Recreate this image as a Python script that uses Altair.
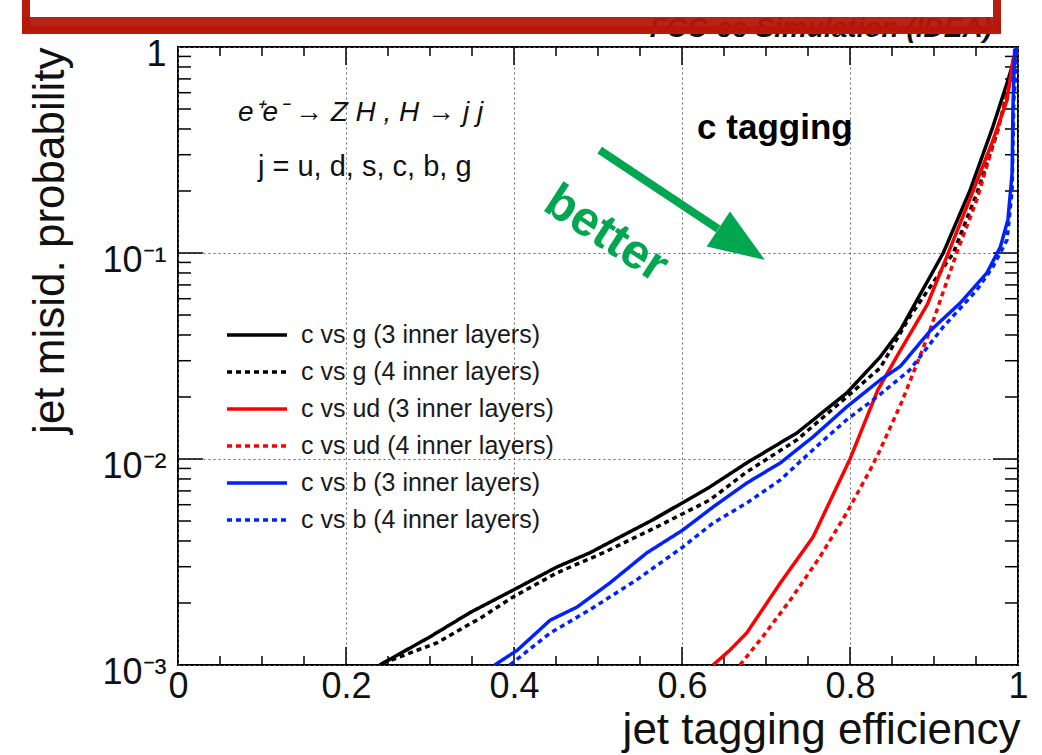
import altair as alt
import pandas as pd

# ---------------- data ----------------
labels = ["c vs g (3 inner layers)", "c vs g (4 inner layers)",
          "c vs ud (3 inner layers)", "c vs ud (4 inner layers)",
          "c vs b (3 inner layers)", "c vs b (4 inner layers)"]
colors = ["#000000", "#000000", "#ff0000", "#ff0000", "#0022ff", "#0022ff"]
dashes = [[1, 0], [5, 4], [1, 0], [5, 4], [1, 0], [5, 4]]

eff_g3 = [0.240, 0.300, 0.348, 0.399, 0.451, 0.490, 0.526, 0.565, 0.633, 0.677,
          0.737, 0.796, 0.836, 0.860, 0.911, 0.943, 0.970, 0.987, 1.0]
mis_g3 = [1.0e-3, 1.37e-3, 1.80e-3, 2.31e-3, 2.99e-3, 3.50e-3, 4.18e-3, 5.06e-3, 7.31e-3, 9.57e-3,
          1.34e-2, 2.09e-2, 3.13e-2, 4.23e-2, 0.100, 0.202, 0.409, 0.669, 1.0]

eff_g4 = [0.244, 0.308, 0.360, 0.399, 0.451, 0.506, 0.570, 0.633, 0.677, 0.737,
          0.796, 0.836, 0.871, 0.923, 0.951, 0.975, 0.988, 1.0]
mis_g4 = [1.02e-3, 1.28e-3, 1.69e-3, 2.14e-3, 2.80e-3, 3.50e-3, 4.68e-3, 6.32e-3, 8.65e-3, 1.24e-2,
          2.00e-2, 2.77e-2, 4.89e-2, 0.100, 0.195, 0.383, 0.618, 1.0]

eff_u3 = [0.637, 0.657, 0.677, 0.717, 0.756, 0.800, 0.833, 0.856, 0.892, 0.915,
          0.943, 0.970, 0.987, 0.994, 1.0]
mis_u3 = [1.0e-3, 1.18e-3, 1.43e-3, 2.50e-3, 4.18e-3, 1.0e-2, 2.16e-2, 3.16e-2, 5.62e-2, 9.55e-2,
          0.184, 0.351, 0.553, 0.865, 1.0]

eff_u4 = [0.669, 0.696, 0.729, 0.764, 0.796, 0.824, 0.836, 0.862, 0.893, 0.927,
          0.951, 0.964, 0.975, 0.988, 1.0]
mis_u4 = [1.0e-3, 1.37e-3, 2.07e-3, 3.34e-3, 5.47e-3, 8.85e-3, 1.11e-2, 1.91e-2, 3.98e-2, 0.100,
          0.181, 0.274, 0.383, 0.618, 1.0]

eff_b3 = [0.377, 0.404, 0.443, 0.475, 0.514, 0.558, 0.601, 0.637, 0.677, 0.717,
          0.756, 0.796, 0.836, 0.860, 0.895, 0.931, 0.963, 0.979, 0.988, 0.993,
          0.994, 0.996, 1.0]
mis_b3 = [1.0e-3, 1.18e-3, 1.65e-3, 1.91e-3, 2.50e-3, 3.50e-3, 4.52e-3, 5.85e-3, 7.64e-3, 9.57e-3,
          1.28e-2, 1.79e-2, 2.42e-2, 2.82e-2, 4.17e-2, 5.71e-2, 8.0e-2, 0.107, 0.145, 0.244,
          0.512, 0.966, 1.0]

eff_b4 = [0.395, 0.443, 0.490, 0.546, 0.601, 0.637, 0.677, 0.717, 0.756, 0.796,
          0.832, 0.871, 0.911, 0.951, 0.970, 0.987, 0.993, 0.995, 1.0]
mis_b4 = [1.0e-3, 1.43e-3, 1.85e-3, 2.59e-3, 3.74e-3, 4.89e-3, 6.11e-3, 7.91e-3, 1.11e-2, 1.55e-2,
          2.0e-2, 2.70e-2, 4.38e-2, 6.61e-2, 8.55e-2, 0.116, 0.202, 0.553, 1.0]

# axis ticks
x_labels_at = [0, 0.2, 0.4, 0.6, 0.8, 1]
x_major = [0.2, 0.4, 0.6, 0.8]
x_minor = [0.05, 0.1, 0.15, 0.25, 0.3, 0.35, 0.45, 0.5, 0.55,
           0.65, 0.7, 0.75, 0.85, 0.9, 0.95]
y_labels_at = [0.001, 0.01, 0.1, 1]
y_major = [0.01, 0.1]
y_minor = [0.002, 0.003, 0.004, 0.005, 0.006, 0.007, 0.008, 0.009,
           0.02, 0.03, 0.04, 0.05, 0.06, 0.07, 0.08, 0.09,
           0.2, 0.3, 0.4, 0.5, 0.6, 0.7, 0.8, 0.9]

# annotations (data coordinates)
process_text = "e\u207ae\u207b \u2192 Z H , H \u2192 j j"
jets_text = "j = u, d, s, c, b, g"
tag_text = "c tagging"
better_text = "better"
header_text = "FCC-ee Simulation (IDEA)"

FONT = "Liberation Sans"
GREEN = "#00a650"
W, H = 840, 618

# ---------------- build ----------------
series = [eff_g3, eff_g4, eff_u3, eff_u4, eff_b3, eff_b4]
misid = [mis_g3, mis_g4, mis_u3, mis_u4, mis_b3, mis_b4]
rows = []
for lab, ex, my in zip(labels, series, misid):
    for i, (a, b) in enumerate(zip(ex, my)):
        rows.append({"series": lab, "eff": a, "mis": b, "i": i})
curves = pd.DataFrame(rows)

xs = alt.Scale(domain=[0, 1], nice=False, zero=False)
ys = alt.Scale(type="log", domain=[0.001, 1], nice=False)

x_axis = alt.Axis(values=x_labels_at, title="jet tagging efficiency",
                  labelExpr="datum.value == 0 ? '0' : datum.value == 1 ? '1' : format(datum.value, '.1f')",
                  labelFontSize=36, labelPadding=4, labelFlush=False,
                  grid=True, gridDash=[2, 3], gridColor="#666666", gridWidth=1,
                  domain=False, ticks=False,
                  titleFontSize=44, titleFontWeight="normal", titleAlign="right",
                  titleBaseline="alphabetic", titleX=W + 2, titleY=78)
y_axis = alt.Axis(values=y_labels_at, title="jet misid. probability",
                  labelExpr="datum.value >= 1 ? '1' : datum.value > 0.05 ? '10\u207b\u00b9' : datum.value > 0.005 ? '10\u207b\u00b2' : '10\u207b\u00b3'",
                  labelFontSize=36, labelPadding=12, labelBaseline="middle", labelOffset=7,
                  grid=True, gridDash=[2, 3], gridColor="#666666", gridWidth=1,
                  domain=False, ticks=False,
                  titleFontSize=44, titleFontWeight="normal", titleAngle=270,
                  titleAlign="right", titleBaseline="middle", titleX=-128, titleY=0)

X = lambda f: alt.X(f, type="quantitative", scale=xs, axis=x_axis)
Y = lambda f: alt.Y(f, type="quantitative", scale=ys, axis=y_axis)

leg = alt.Legend(title=None, orient="none", legendX=47, legendY=278,
                 symbolType="stroke", symbolSize=3600, symbolStrokeWidth=3.5,
                 labelFont=FONT, labelFontSize=25, labelColor="#1a1a1a",
                 labelOffset=12, rowPadding=12, clipHeight=20, labelLimit=500,
                 direction="vertical")

lines = alt.Chart(curves).mark_line(strokeWidth=3.5, clip=True).encode(
    x=X("eff"), y=Y("mis"),
    color=alt.Color("series:N", scale=alt.Scale(domain=labels, range=colors), legend=leg),
    strokeDash=alt.StrokeDash("series:N", scale=alt.Scale(domain=labels, range=dashes), legend=leg),
    detail="series:N",
    order=alt.Order("i:Q"),
)

# inside ticks (ROOT style)
def xticks(vals, length):
    d = pd.DataFrame({"v": vals})
    base = alt.Chart(d).mark_rule(color="black", strokeWidth=1.5)
    bot = base.encode(x=X("v"), y=alt.value(H), y2=alt.value(H - length))
    top = base.encode(x=X("v"), y=alt.value(0), y2=alt.value(length))
    return [bot, top]

def yticks(vals, length):
    d = pd.DataFrame({"v": vals})
    base = alt.Chart(d).mark_rule(color="black", strokeWidth=1.5)
    left = base.encode(y=Y("v"), x=alt.value(0), x2=alt.value(length))
    right = base.encode(y=Y("v"), x=alt.value(W), x2=alt.value(W - length))
    return [left, right]

ticks = xticks(x_major, 18) + xticks(x_minor, 9) + yticks(y_major, 25) + yticks(y_minor, 13)

# text annotations
ann = pd.DataFrame({
    "x": [0.0714, 0.0952, 0.618],
    "y": [0.478, 0.261, 0.404],
    "t": [process_text, jets_text, tag_text],
})
t_proc = alt.Chart(ann.iloc[[0]]).mark_text(align="left", baseline="middle", font=FONT,
                                            fontSize=28, fontStyle="italic", color="#111111").encode(
    x=X("x"), y=Y("y"), text="t:N")
t_jets = alt.Chart(ann.iloc[[1]]).mark_text(align="left", baseline="middle", font=FONT,
                                            fontSize=29, color="#111111").encode(
    x=X("x"), y=Y("y"), text="t:N")
t_tag = alt.Chart(ann.iloc[[2]]).mark_text(align="left", baseline="middle", font=FONT,
                                           fontSize=35, fontWeight="bold", color="#000000").encode(
    x=X("x"), y=Y("y"), text="t:N")

better_df = pd.DataFrame({"x": [0.510], "y": [0.124], "t": [better_text]})
t_better = alt.Chart(better_df).mark_text(align="center", baseline="middle", font=FONT,
                                          fontSize=49, fontWeight="bold", angle=33,
                                          color=GREEN).encode(
    x=X("x"), y=Y("y"), text="t:N")

arrow_df = pd.DataFrame({"x": [0.502], "y": [0.316], "x2": [0.643], "y2": [0.131]})
shaft = alt.Chart(arrow_df).mark_rule(color=GREEN, strokeWidth=8).encode(
    x=X("x"), y=Y("y"), x2="x2", y2="y2")
head_df = pd.DataFrame({"x": [0.671], "y": [0.110]})
head = alt.Chart(head_df).mark_point(shape="M1,0 L-1,-0.75 L-1,0.75 Z", size=3136,
                                     angle=33.7, filled=True, opacity=1,
                                     color=GREEN, strokeWidth=0).encode(
    x=X("x"), y=Y("y"))

# header (above the frame) with red scribbled box
hdr_df = pd.DataFrame({"t": [header_text]})
hdr = alt.Chart(hdr_df).mark_text(align="right", baseline="alphabetic", font=FONT,
                                  fontSize=28, fontWeight="bold", fontStyle="italic",
                                  color="#111111").encode(
    x=alt.value(W - 26), y=alt.value(-10), text="t:N")
box = alt.Chart(hdr_df).mark_rect(fill=None, stroke="#b81c0c", strokeWidth=8, fillOpacity=0).encode(
    x=alt.value(-152), x2=alt.value(819), y=alt.value(-70), y2=alt.value(-17))
band = alt.Chart(hdr_df).mark_rect(color="#b5170b", opacity=0.95).encode(
    x=alt.value(-156), x2=alt.value(823), y=alt.value(-30), y2=alt.value(-15))

chart = alt.layer(
    *ticks, lines, t_proc, t_jets, t_tag, shaft, head, t_better, hdr, box, band
).properties(
    width=W, height=H,
    padding={"left": 178, "top": 47, "right": 24, "bottom": 90},
    autosize=alt.AutoSizeParams(type="none"),
    background="white",
).configure_view(
    stroke="black", strokeWidth=2
).configure_axis(
    labelFont=FONT, titleFont=FONT, labelColor="#111111", titleColor="#111111"
)

chart.save("out.html", embed_options={"renderer": "svg", "actions": False})
